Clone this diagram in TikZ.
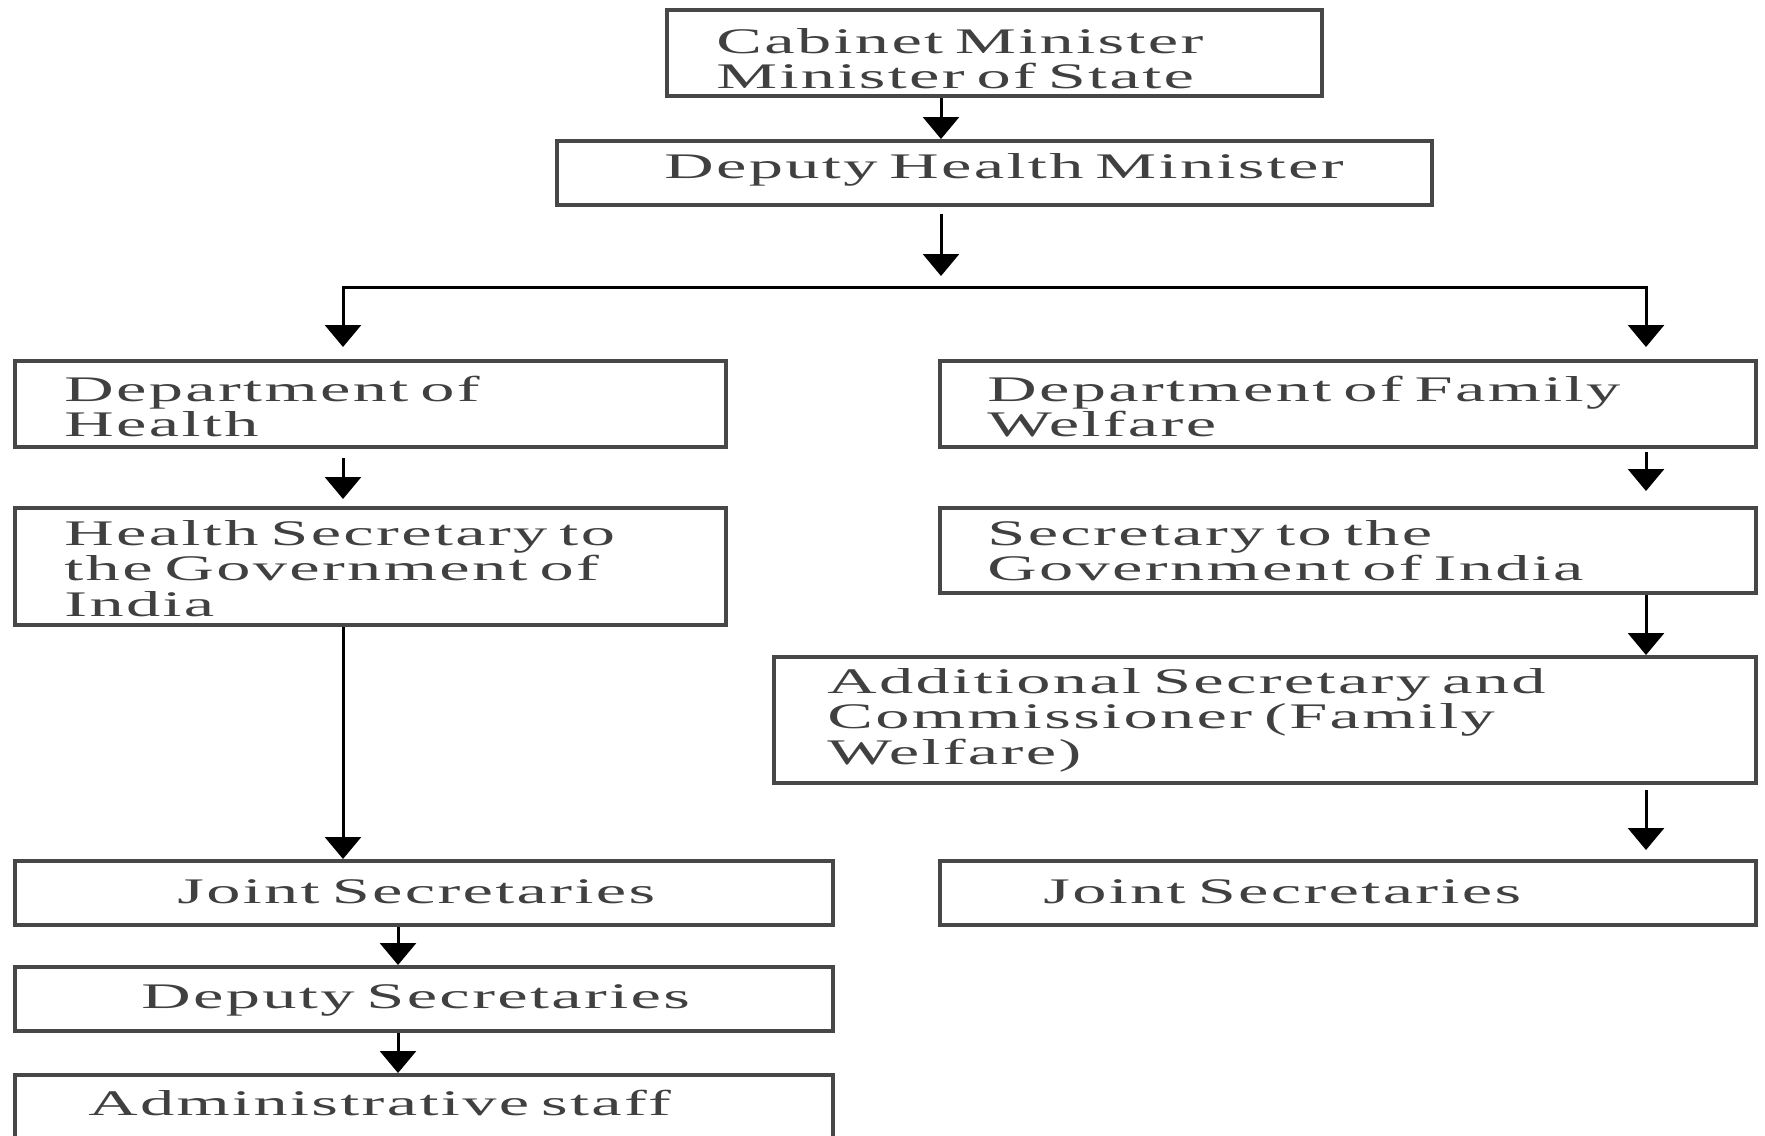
\documentclass[tikz,border=0pt]{standalone}
\usepackage{fontspec}
\setmainfont{Liberation Serif}
\newfontfamily\widefont[FakeStretch=1.9,LetterSpace=6.5]{Liberation Serif}
\usetikzlibrary{arrows.meta,calc}

\begin{document}
\begin{tikzpicture}[x=0.5pt,y=-0.5pt,
  box/.style={draw=black!72, line width=2pt, rectangle, inner sep=0pt},
  lbl/.style={anchor=base west, inner sep=0pt, text width=480pt, align=left, text=black!75,
    font={\widefont\fontsize{18}{17.75}\selectfont\lineskiplimit=-40pt\lineskip=0pt}},
  arr/.style={line width=1.5pt, -{Triangle[width=18pt,length=11pt]}},
  conn/.style={line width=1.5pt, line cap=rect}]

\fill[white] (0,0) rectangle (1765,1135);
\useasboundingbox (0,0) rectangle (1765,1135);

% labels
\node[lbl] (cabt) at (716,53) {Cabinet Minister\\Minister of State};
\node[lbl] (dept) at (664,178) {Deputy Health Minister};
\node[lbl] (doht) at (64,401) {Department of\\Health};
\node[lbl] (dfwt) at (987,401) {Department of Family\\Welfare};
\node[lbl] (hst) at (64,545) {Health Secretary to\\the Government of\\India};
\node[lbl] (sect) at (987,545) {Secretary to the\\Government of India};
\node[lbl] (addt) at (827,693) {Additional Secretary and\\Commissioner (Family\\Welfare)};
\node[lbl] (jsrt) at (1043,903) {Joint Secretaries};
\node[lbl] (jslt) at (177,903) {Joint Secretaries};
\node[lbl] (dst) at (141,1008) {Deputy Secretaries};
\node[lbl] (admt) at (88,1115) {Administrative staff};

% boxes
\node[box, minimum width=327.5pt, minimum height=43pt] (cab) at (994.5,53) {};
\node[box, minimum width=437.5pt, minimum height=32pt] (dep) at (994.5,173) {};
\node[box, minimum width=355.5pt, minimum height=43pt] (doh) at (370.5,404) {};
\node[box, minimum width=408pt, minimum height=43pt] (dfw) at (1348,404) {};
\node[box, minimum width=355.5pt, minimum height=58.5pt] (hs) at (370.5,566.5) {};
\node[box, minimum width=408pt, minimum height=42.5pt] (sec) at (1348,550.5) {};
\node[box, minimum width=491pt, minimum height=63pt] (add) at (1265,720) {};
\node[box, minimum width=408pt, minimum height=32pt] (jsr) at (1348,893) {};
\node[box, minimum width=409pt, minimum height=32pt] (jsl) at (424,893) {};
\node[box, minimum width=409pt, minimum height=32pt] (ds) at (424,999) {};
\node[box, minimum width=409pt, minimum height=37.5pt] (adm) at (424,1112.5) {};

% connectors
\coordinate (jn) at (941,287);
\coordinate (jl) at (343,287);
\coordinate (jr) at (1646,287);

\draw[arr] ([xshift=-26.75pt]cab.south) -- ([xshift=-26.75pt]dep.north);
\draw[arr, shorten <=3.5pt, shorten >=5.5pt] ([xshift=-26.75pt]dep.south) -- (jn);
\draw[conn] (jl) -- (jr);
\draw[arr, shorten >=6pt] (jl) -- (jl |- doh.north);
\draw[arr, shorten >=6pt] (jr) -- (jr |- dfw.north);
\draw[arr, shorten <=4.5pt, shorten >=3.5pt] (jl |- doh.south) -- (jl |- hs.north);
\draw[arr, shorten <=1.5pt, shorten >=7.5pt] (jr |- dfw.south) -- (jr |- sec.north);
\draw[arr] (jr |- sec.south) -- (jr |- add.north);
\draw[arr, shorten <=2.5pt, shorten >=4.5pt] (jr |- add.south) -- (jr |- jsr.north);
\draw[arr] (jl |- hs.south) -- (jl |- jsl.north);
\draw[arr] ([xshift=-13pt]jsl.south) -- ([xshift=-13pt]ds.north);
\draw[arr] ([xshift=-13pt]ds.south) -- ([xshift=-13pt]adm.north);
\end{tikzpicture}
\end{document}
